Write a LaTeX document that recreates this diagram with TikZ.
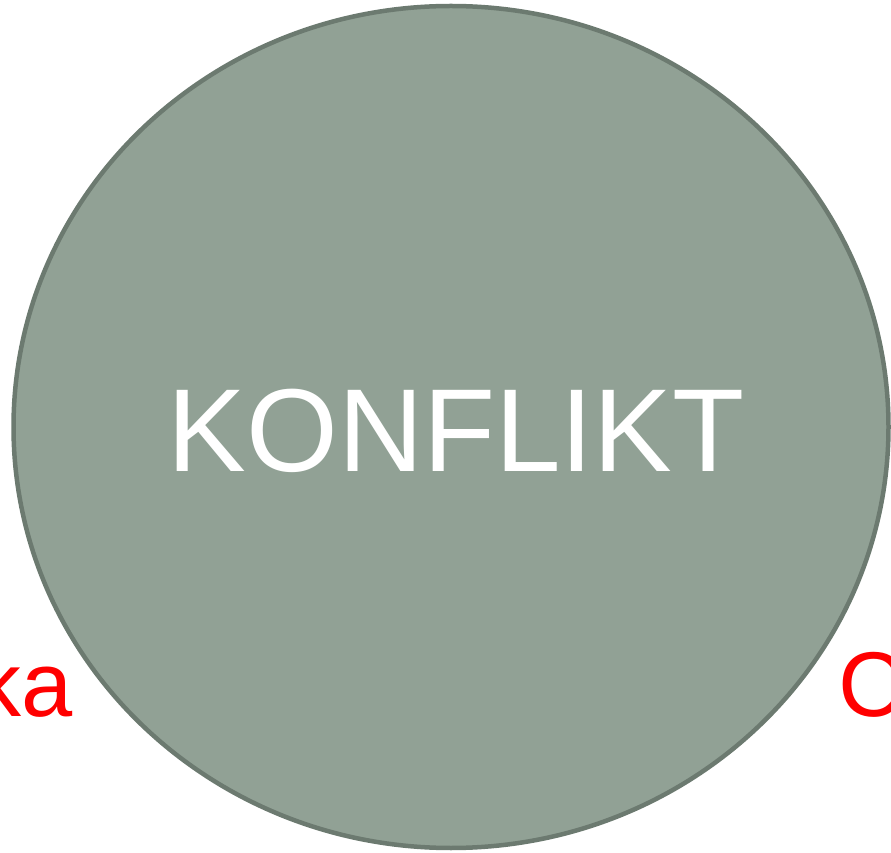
\documentclass[tikz,border=0pt]{standalone}
\usepackage{fontspec}
\setmainfont{Liberation Sans}
\definecolor{ellfill}{HTML}{91A195}
\definecolor{ellline}{HTML}{6C7A70}
\definecolor{redtxt}{HTML}{FF0000}
\tikzset{
  bigcircle/.style={ellipse, draw=ellline, line width=4.5pt, fill=ellfill, minimum width=875pt, minimum height=842pt, inner sep=0pt},
  sidelabel/.style={text=redtxt, inner sep=0pt, font=\fontsize{92}{92}\selectfont},
  maintext/.style={text=white, inner sep=0pt, font=\fontsize{118}{118}\selectfont}
}
\usetikzlibrary{shapes.geometric}
\begin{document}
\begin{tikzpicture}[x=1pt,y=1pt]
\useasboundingbox (0,0) rectangle (891,852);
\node[sidelabel, anchor=base east] (ka) at (73,136) {ka};
\node[sidelabel, anchor=base west] (c) at (838,136) {C};
\node[bigcircle] (konf) at (451,425) {};
\node[maintext, anchor=base] (ktext) at (456,380) {KONFLIKT};
\end{tikzpicture}
\end{document}
